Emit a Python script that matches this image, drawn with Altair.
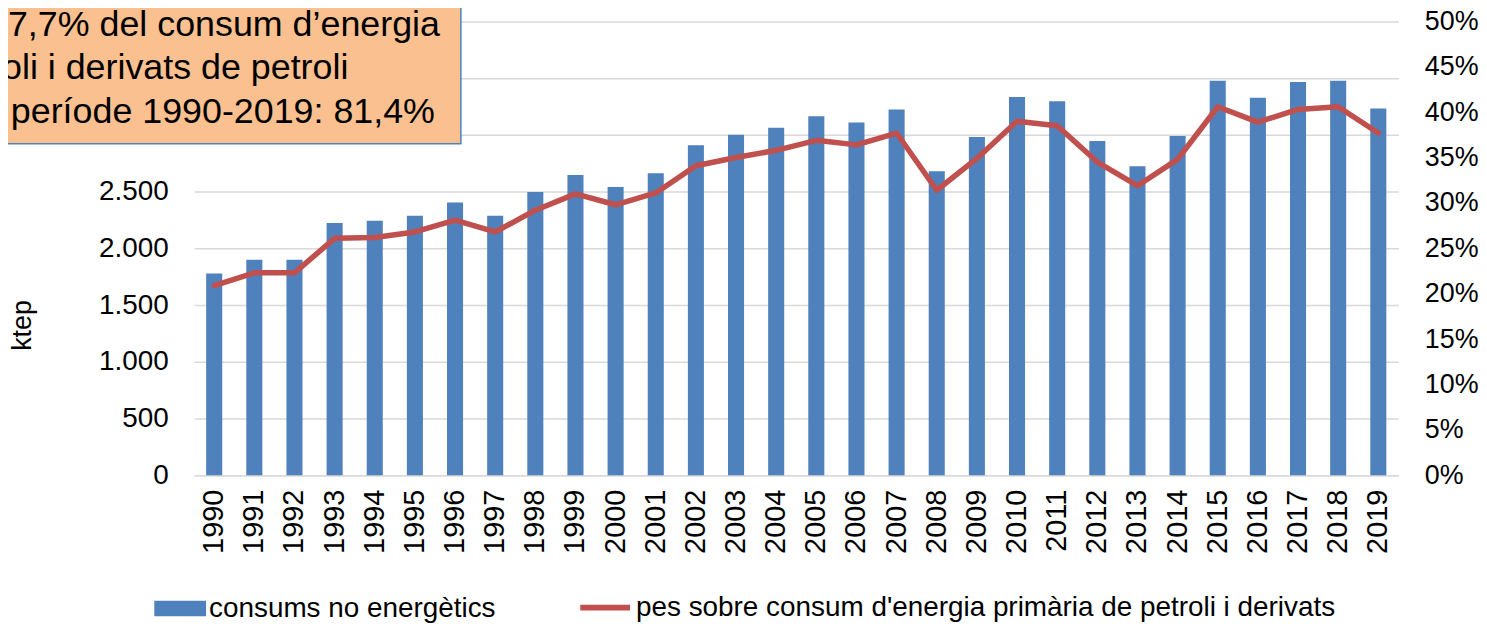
import altair as alt
import pandas as pd

FONT = "Liberation Sans"

years = ["1990", "1991", "1992", "1993", "1994", "1995", "1996", "1997", "1998", "1999",
         "2000", "2001", "2002", "2003", "2004", "2005", "2006", "2007", "2008", "2009",
         "2010", "2011", "2012", "2013", "2014", "2015", "2016", "2017", "2018", "2019"]
consums = [1777, 1900, 1900, 2224, 2242, 2288, 2403, 2286, 2497, 2647,
           2541, 2662, 2909, 3000, 3062, 3165, 3109, 3223, 2680, 2982,
           3333, 3297, 2947, 2724, 2989, 3476, 3326, 3465, 3476, 3232]
pes_pct = [20.9, 22.3, 22.3, 26.1, 26.2, 26.8, 28.1, 26.8, 29.2, 31.0,
           29.8, 31.1, 34.1, 35.0, 35.8, 36.9, 36.4, 37.7, 31.4, 34.9,
           39.0, 38.5, 34.5, 31.9, 34.8, 40.6, 38.9, 40.3, 40.6, 37.7]
left_ticks = [0, 500, 1000, 1500, 2000, 2500, 3000, 3500, 4000]
right_ticks = [0, 0.05, 0.10, 0.15, 0.20, 0.25, 0.30, 0.35, 0.40, 0.45, 0.50]
serie_bars = "consums no energètics"
serie_line = "pes sobre consum d'energia primària de petroli i derivats"
note_lines = ["7,7% del consum d’energia", "oli i derivats de petroli", "període 1990-2019: 81,4%"]

df = pd.DataFrame({
    "any": years,
    "consum": consums,
    "pes": [p / 100 for p in pes_pct],
    "s1": serie_bars,
    "s2": serie_line,
})

x_enc = alt.X(
    "any:N", sort=None,
    scale=alt.Scale(paddingInner=0.6, paddingOuter=0.3),
    axis=alt.Axis(title=None, labelAngle=-90, ticks=False, labelPadding=14,
                  domainColor="#D9D9D9", domainWidth=1.5, labelFontSize=29),
)

bars = alt.Chart(df).mark_bar().encode(
    x=x_enc,
    y=alt.Y(
        "consum:Q",
        scale=alt.Scale(domain=[0, 4000]),
        axis=alt.Axis(title="ktep", values=left_ticks,
                      labelExpr="datum.value >= 3000 ? '' : replace(format(datum.value, ','), ',', '.')",
                      grid=True, gridColor="#D9D9D9", gridWidth=1.5,
                      ticks=False, domain=False, labelPadding=26, labelFontSize=28,
                      titleFontSize=27, titleX=-158, titleY=305),
    ),
    fill=alt.Fill(
        "s1:N", scale=alt.Scale(domain=[serie_bars], range=["#4F81BD"]),
        legend=alt.Legend(title=None, orient="none", legendX=-40, legendY=564,
                          symbolType="M-1,-0.3H1V0.3H-1Z", symbolSize=2704,
                          symbolStrokeWidth=0, labelFontSize=28, labelOffset=3,
                          labelLimit=2000, padding=0),
    ),
)

line = alt.Chart(df).mark_line(strokeWidth=5.5, strokeJoin="round", strokeCap="round").encode(
    x=alt.X("any:N", sort=None),
    y=alt.Y(
        "pes:Q",
        scale=alt.Scale(domain=[0, 0.5]),
        axis=alt.Axis(orient="right", title=None, values=right_ticks, format=".0%",
                      grid=False, ticks=False, domain=False, labelPadding=26,
                      labelFontSize=27),
    ),
    stroke=alt.Stroke(
        "s2:N", scale=alt.Scale(domain=[serie_line], range=["#C0504D"]),
        legend=alt.Legend(title=None, orient="none", legendX=385, legendY=561,
                          symbolType="stroke", symbolSize=2500, symbolStrokeWidth=6,
                          labelFontSize=28, labelOffset=3, labelLimit=2000, padding=0),
    ),
)

anchor = pd.DataFrame({"a": [0]})
box = alt.Chart(anchor).mark_rect(fill="#FAC090", stroke="#4F81BD", strokeWidth=1.5).encode(
    x=alt.value(-200), x2=alt.value(268), y=alt.value(-30), y2=alt.value(123)
)

note_x = [247, 155, 242]
note_y = [15, 58, 102]
notes = [
    alt.Chart(anchor).mark_text(align="right", baseline="alphabetic", fontSize=36,
                                font=FONT, color="black").encode(
        x=alt.value(xx), y=alt.value(yy), text=alt.value(t))
    for t, xx, yy in zip(note_lines, note_x, note_y)
]

chart = alt.layer(bars, line, box, *notes).resolve_scale(
    y="independent"
).properties(
    width=1210, height=456,
    autosize=alt.AutoSizeParams(type="none"),
    padding={"left": 187, "top": 12, "right": 81, "bottom": 148},
).configure_view(stroke=None).configure_axis(
    labelFont=FONT, titleFont=FONT, labelColor="black", titleColor="black",
    titleFontWeight="normal",
).configure_legend(labelFont=FONT, labelColor="black")

chart.save("out.html", embed_options={"renderer": "svg", "actions": False})
